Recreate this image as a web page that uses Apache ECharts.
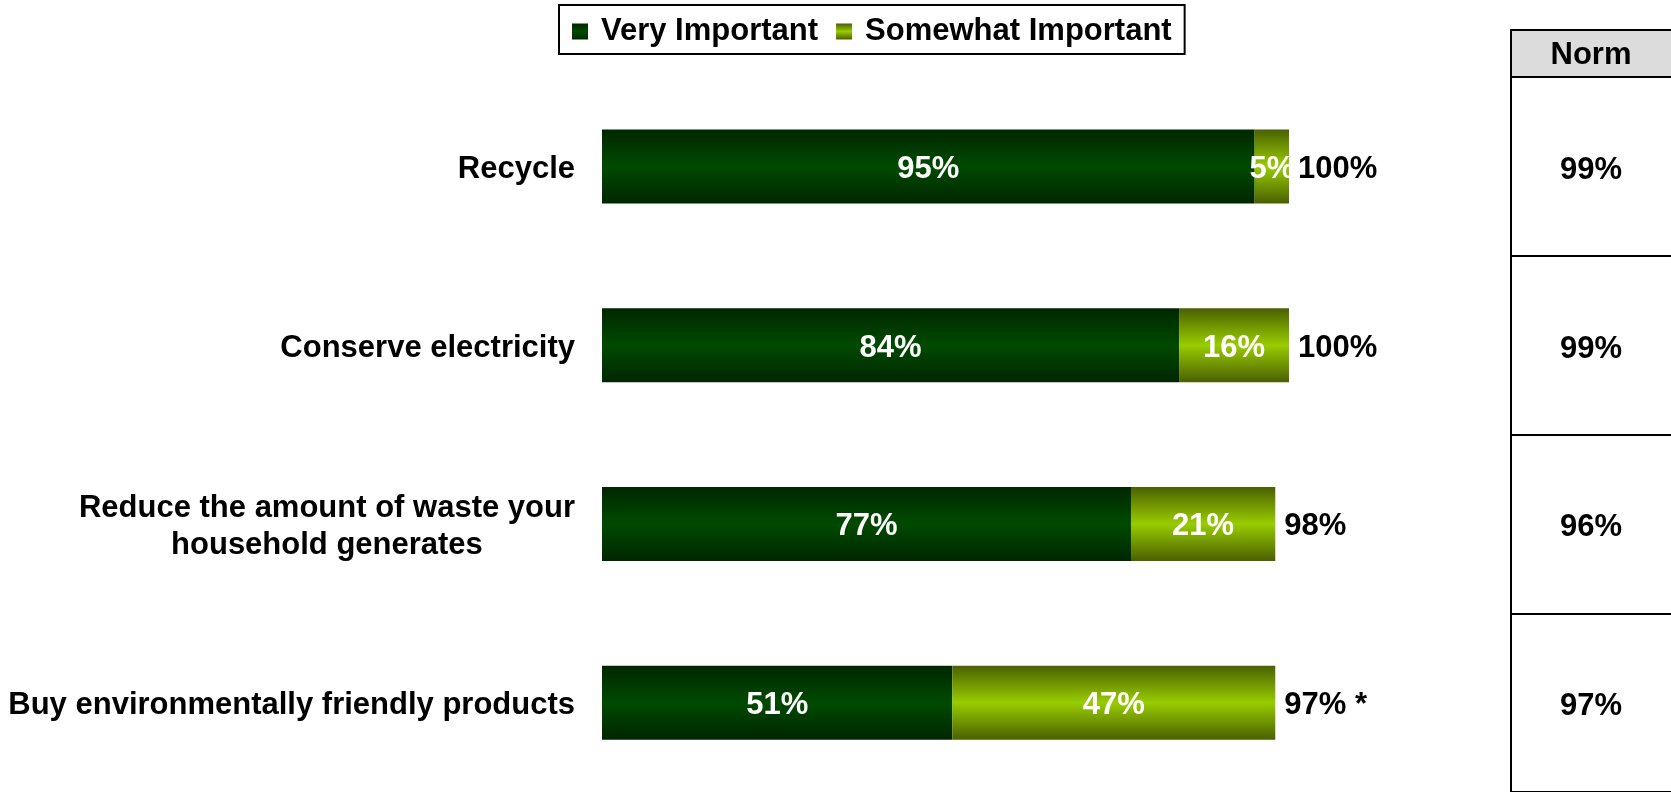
<!DOCTYPE html>
<html>
<head>
<meta charset="utf-8">
<script src="https://cdn.jsdelivr.net/npm/echarts@6/dist/echarts.min.js"></script>
<style>
html,body{margin:0;padding:0;background:#fff;}
#chart{width:1671px;height:792px;}
</style>
</head>
<body>
<div id="chart"></div>
<script>
const categories = ['Recycle', 'Conserve electricity', 'Reduce the amount of waste your\nhousehold generates', 'Buy environmentally friendly products'];
const veryImportant = [95, 84, 77, 51];
const somewhatImportant = [5, 16, 21, 47];
const totals = [100, 100, 98, 97];
const totalNotes = ['', '', '', ' *'];
const norms = [99, 99, 96, 97];
const seriesNames = ['Very Important', 'Somewhat Important'];

const FONT = "'Liberation Sans', Arial, sans-serif";
const darkGrad = new echarts.graphic.LinearGradient(0, 0, 0, 1, [
  {offset: 0, color: '#002600'}, {offset: 0.5, color: '#004a00'}, {offset: 1, color: '#002600'}]);
const lightGrad = new echarts.graphic.LinearGradient(0, 0, 0, 1, [
  {offset: 0, color: '#4a6000'}, {offset: 0.5, color: '#99cc00'}, {offset: 1, color: '#4a6000'}]);

const chart = echarts.init(document.getElementById('chart'));
const inLabel = {show: true, position: 'inside', color: '#fff', fontFamily: FONT, fontWeight: 'bold', fontSize: 31,
  offset: [0, 3], formatter: p => p.value + '%'};

chart.setOption({
  animation: false,
  textStyle: {fontFamily: FONT},
  legend: {
    data: seriesNames,
    left: 559, top: 5,
    itemWidth: 16, itemHeight: 16, itemGap: 18,
    icon: 'rect',
    borderColor: '#000', borderWidth: 2, backgroundColor: '#fff',
    padding: [11, 13, 7, 13],
    textStyle: {fontFamily: FONT, fontWeight: 'bold', fontSize: 31, color: '#000', padding: [0, 0, 0, 8]}
  },
  grid: [
    {left: 602, width: 687, top: 77, height: 718},
    {left: 1511, width: 160, top: 77, height: 718}
  ],
  xAxis: [
    {gridIndex: 0, type: 'value', min: 0, max: 100, show: false},
    {gridIndex: 1, type: 'value', min: 0, max: 1, show: false}
  ],
  yAxis: [
    {gridIndex: 0, type: 'category', inverse: true, data: categories,
     axisLine: {show: false}, axisTick: {show: false}, splitLine: {show: false},
     axisLabel: {margin: 27, color: '#000', fontFamily: FONT, fontWeight: 'bold', fontSize: 31, lineHeight: 37,
       padding: [6, 0, 0, 0],
       formatter: v => v.split('\n').map(s => '{c|' + s + '}').join('\n'),
       rich: {c: {align: 'center', color: '#000', fontFamily: FONT, fontWeight: 'bold', fontSize: 31, lineHeight: 37}}}},
    {gridIndex: 1, type: 'category', inverse: true, data: categories,
     axisLine: {show: true, lineStyle: {color: '#000', width: 2}}, axisTick: {show: false}, axisLabel: {show: false},
     splitLine: {show: true, lineStyle: {color: '#000', width: 2}}}
  ],
  graphic: [
    {type: 'rect', shape: {x: 1511, y: 30, width: 200, height: 47}, style: {fill: '#dcdcdc', stroke: '#000', lineWidth: 2}, z: 10},
    {type: 'text', x: 1591, y: 55, style: {text: 'Norm', align: 'center', verticalAlign: 'middle', font: "bold 31px 'Liberation Sans', Arial, sans-serif", fill: '#000'}, z: 11}
  ],
  series: [
    {name: seriesNames[0], type: 'bar', stack: 'a', xAxisIndex: 0, yAxisIndex: 0, barWidth: 74,
     data: veryImportant, itemStyle: {color: darkGrad}, label: inLabel},
    {name: seriesNames[1], type: 'bar', stack: 'a', xAxisIndex: 0, yAxisIndex: 0, barWidth: 74,
     data: somewhatImportant, itemStyle: {color: lightGrad}, label: inLabel},
    {name: 'Total', type: 'bar', stack: 'a', xAxisIndex: 0, yAxisIndex: 0, barWidth: 74,
     data: totals.map(() => 0), itemStyle: {color: 'transparent'},
     label: {show: true, position: 'right', distance: 9, color: '#000', fontFamily: FONT, fontWeight: 'bold', fontSize: 31,
       offset: [0, 3],
       formatter: p => totals[p.dataIndex] + '%' + totalNotes[p.dataIndex]}},
    {name: 'Norm', type: 'scatter', xAxisIndex: 1, yAxisIndex: 1, symbolSize: 1,
     itemStyle: {color: 'transparent', opacity: 1},
     data: norms.map((n, i) => [0.5, i]),
     label: {show: true, position: 'inside', color: '#000', fontFamily: FONT, fontWeight: 'bold', fontSize: 31,
       offset: [0, 4],
       formatter: p => norms[p.dataIndex] + '%'}}
  ]
});
</script>
</body>
</html>
